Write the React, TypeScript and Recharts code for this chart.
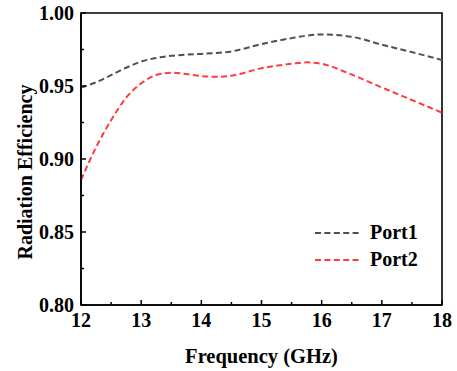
import React from "react";
import { LineChart, Line, XAxis, YAxis, Legend, Label, ReferenceArea } from "recharts";

// Frequency sweep (GHz)
const freqs = [12, 12.25, 12.5, 12.75, 13, 13.25, 13.5, 13.75, 14, 14.25, 14.5, 15, 15.5, 15.75, 16, 16.5, 17, 17.5, 18];
// Radiation efficiency of each port
const port1 = [0.949, 0.9525, 0.9575, 0.9625, 0.9667, 0.9692, 0.9707, 0.9715, 0.972, 0.9726, 0.9737, 0.9787, 0.9828, 0.9845, 0.9853, 0.9837, 0.9783, 0.9732, 0.9678];
const port2 = [0.8856, 0.908, 0.9265, 0.942, 0.9518, 0.9575, 0.9591, 0.9582, 0.9568, 0.9563, 0.9571, 0.9622, 0.9652, 0.9662, 0.9652, 0.9578, 0.949, 0.9404, 0.9317];

const xTicks = [12, 12.5, 13, 13.5, 14, 14.5, 15, 15.5, 16, 16.5, 17, 17.5, 18];
const yTicks = [0.8, 0.825, 0.85, 0.875, 0.9, 0.925, 0.95, 0.975, 1.0];

const data = freqs.map((f, i) => ({ f, p1: port1[i], p2: port2[i] }));

const FONT = "'Liberation Serif', 'Times New Roman', serif";
const GRAY = "#4f4f4f";
const RED = "#ff3b3b";
const TICK_MARGIN = 8;

const XTick = (props: any) => {
  const { x, y, payload } = props;
  const v = payload.value;
  const major = Math.abs(v - Math.round(v)) < 1e-6;
  const axisY = y - TICK_MARGIN;
  return (
    <g>
      <line x1={x} x2={x} y1={axisY} y2={axisY - (major ? 5 : 3)} stroke="#000" strokeWidth={1.5} />
      {major && (
        <text x={x} y={axisY + 22} textAnchor="middle" style={{ fontFamily: FONT }} fontWeight="bold" fontSize={20} fill="#000">
          {v}
        </text>
      )}
    </g>
  );
};

const YTick = (props: any) => {
  const { x, y, payload } = props;
  const v = payload.value;
  const major = Math.round(v * 1000) % 50 === 0;
  const axisX = x + TICK_MARGIN;
  return (
    <g>
      <line x1={axisX} x2={axisX + (major ? 5 : 3)} y1={y} y2={y} stroke="#000" strokeWidth={1.5} />
      {major && (
        <text x={axisX - 7} y={y + 7} textAnchor="end" style={{ fontFamily: FONT }} fontWeight="bold" fontSize={20} fill="#000">
          {v.toFixed(2)}
        </text>
      )}
    </g>
  );
};

const legendItems = [
  { name: "Port1", color: GRAY },
  { name: "Port2", color: RED },
];

const LegendBox = () => (
  <div style={{ fontFamily: FONT, fontWeight: "bold", fontSize: 20, color: "#000" }}>
    {legendItems.map((it) => (
      <div key={it.name} style={{ display: "flex", alignItems: "center", height: 27, lineHeight: "27px" }}>
        <svg width={47} height={6} style={{ marginRight: 8 }}>
          <line x1={0} x2={47} y1={3} y2={3} stroke={it.color} strokeWidth={2} strokeDasharray="6 3.4" />
        </svg>
        <span>{it.name}</span>
      </div>
    ))}
  </div>
);

export default function App() {
  return (
    <div style={{ position: "absolute", left: 0, top: 0, background: "#fff" }}>
      <LineChart width={457} height={371} data={data} margin={{ top: 13, right: 15, bottom: 0, left: 0 }}>
        <XAxis
          dataKey="f"
          type="number"
          domain={[12, 18]}
          ticks={xTicks}
          interval={0}
          tickSize={0}
          tickMargin={TICK_MARGIN}
          tickLine={false}
          tick={<XTick />}
          axisLine={{ stroke: "#000", strokeWidth: 1.6 }}
          height={66}
        >
          <Label
            value="Frequency (GHz)"
            position="insideBottom"
            offset={8}
            style={{ fontFamily: FONT, fontWeight: "bold", fontSize: 20.5, fill: "#000" }}
          />
        </XAxis>
        <YAxis
          type="number"
          domain={[0.8, 1.0]}
          allowDataOverflow
          ticks={yTicks}
          interval={0}
          tickSize={0}
          tickMargin={TICK_MARGIN}
          tickLine={false}
          tick={<YTick />}
          axisLine={{ stroke: "#000", strokeWidth: 1.6 }}
          width={81}
        >
          <Label
            content={({ viewBox }: any) => {
              const cx = viewBox.x + 25;
              const cy = viewBox.y + viewBox.height / 2 + 13;
              return (
                <text
                  x={cx}
                  y={cy}
                  transform={`rotate(-90 ${cx} ${cy})`}
                  textAnchor="middle"
                  dominantBaseline="central"
                  style={{ fontFamily: FONT }}
                  fontWeight="bold"
                  fontSize={20}
                  fill="#000"
                >
                  Radiation Efficiency
                </text>
              );
            }}
          />
        </YAxis>
        <ReferenceArea x1={12} x2={18} y1={0.8} y2={1.0} fill="none" stroke="#000" strokeWidth={1.6} ifOverflow="visible" />
        <Legend
          layout="vertical"
          align="center"
          verticalAlign="middle"
          content={<LegendBox />}
          wrapperStyle={{ left: 315, top: 219, width: "auto", height: "auto" }}
        />
        <Line
          type="monotone"
          dataKey="p1"
          name="Port1"
          stroke={GRAY}
          strokeWidth={2}
          strokeDasharray="6 3.4"
          dot={false}
          isAnimationActive={false}
        />
        <Line
          type="monotone"
          dataKey="p2"
          name="Port2"
          stroke={RED}
          strokeWidth={2}
          strokeDasharray="6 3.4"
          dot={false}
          isAnimationActive={false}
        />
      </LineChart>
    </div>
  );
}
